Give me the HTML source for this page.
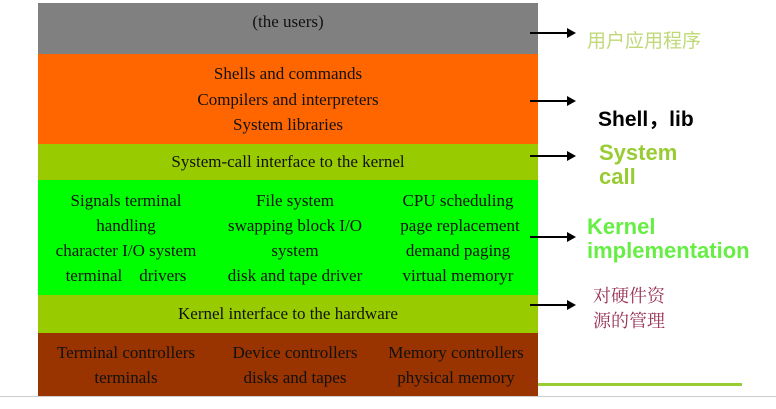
<!DOCTYPE html>
<html><head><meta charset="utf-8"><style>
body{margin:0;width:776px;height:409px;background:#fff;position:relative;overflow:hidden;font-family:"Liberation Serif",serif;font-size:17px;color:#111}
.b{position:absolute;left:38px;width:500px}
.t{position:absolute;white-space:nowrap;transform:translate(-50%,-50%)}
.r{position:absolute;white-space:nowrap}
.a{position:absolute;height:2px;background:#000;width:38px}
.a:after{content:"";position:absolute;right:-8px;top:-4px;border-left:9px solid #000;border-top:5px solid transparent;border-bottom:5px solid transparent}
</style></head><body>
<div class="b" style="top:3px;height:51px;background:#808080"></div>
<div class="b" style="top:54px;height:90px;background:#ff6600"></div>
<div class="b" style="top:144px;height:36px;background:#99cc00"></div>
<div class="b" style="top:180px;height:115px;background:#00ff00"></div>
<div class="b" style="top:295px;height:38px;background:#99cc00"></div>
<div class="b" style="top:333px;height:63px;background:#993300"></div>
<div style="position:absolute;left:0;top:396px;width:776px;height:1px;background:#ccc"></div>
<div style="position:absolute;left:538px;top:383px;width:204px;height:3px;background:#99cc33"></div>

<div class="t" style="left:288px;top:22px">(the users)</div>
<div class="t" style="left:288px;top:74px">Shells and commands</div>
<div class="t" style="left:288px;top:100px">Compilers and interpreters</div>
<div class="t" style="left:288px;top:125px">System libraries</div>
<div class="t" style="left:288px;top:162px">System-call interface to the kernel</div>
<div class="t" style="left:126px;top:201px">Signals terminal</div>
<div class="t" style="left:126px;top:226px">handling</div>
<div class="t" style="left:126px;top:251px">character I/O system</div>
<div class="t" style="left:126px;top:276px">terminal&nbsp;&nbsp;&nbsp; drivers</div>
<div class="t" style="left:295px;top:201px">File system</div>
<div class="t" style="left:295px;top:226px">swapping block I/O</div>
<div class="t" style="left:295px;top:251px">system</div>
<div class="t" style="left:295px;top:276px">disk and tape driver</div>
<div class="t" style="left:458px;top:201px">CPU scheduling</div>
<div class="t" style="left:460px;top:226px">page replacement</div>
<div class="t" style="left:458px;top:251px">demand paging</div>
<div class="t" style="left:458px;top:276px">virtual memoryr</div>
<div class="t" style="left:288px;top:314px">Kernel interface to the hardware</div>
<div class="t" style="left:126px;top:353px">Terminal controllers</div>
<div class="t" style="left:126px;top:378px">terminals</div>
<div class="t" style="left:295px;top:353px">Device controllers</div>
<div class="t" style="left:295px;top:378px">disks and tapes</div>
<div class="t" style="left:456px;top:353px">Memory controllers</div>
<div class="t" style="left:456px;top:378px">physical memory</div>

<div class="a" style="left:530px;top:32px"></div>
<div class="a" style="left:530px;top:100px"></div>
<div class="a" style="left:530px;top:155px"></div>
<div class="a" style="left:530px;top:236px"></div>
<div class="a" style="left:530px;top:304px"></div>

<div class="r" style="left:587px;top:26px;font-family:'Liberation Sans','Noto Sans CJK SC',sans-serif;font-size:19px;color:#c0d878">用户应用程序</div>
<div class="r" style="left:598px;top:103px;font-family:'Liberation Sans','Noto Sans CJK SC',sans-serif;font-size:21px;font-weight:bold;color:#000">Shell，lib</div>
<div class="r" style="left:599px;top:141px;font-family:'Liberation Sans',sans-serif;font-size:22px;font-weight:bold;color:#99cc33;line-height:24px">System<br>call</div>
<div class="r" style="left:587px;top:215px;font-family:'Liberation Sans',sans-serif;font-size:22px;font-weight:bold;color:#66ee44;line-height:24px">Kernel<br>implementation</div>
<div class="r" style="left:593px;top:284px;font-family:'Liberation Serif','Noto Serif CJK SC',serif;font-size:18px;color:#993355;line-height:25px">对硬件资<br>源的管理</div>
</body></html>
